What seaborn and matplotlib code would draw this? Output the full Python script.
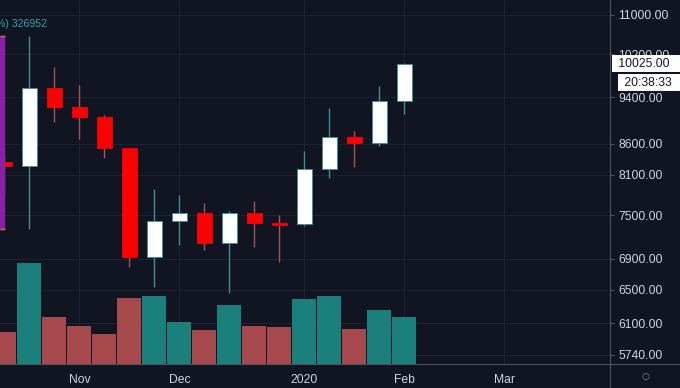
"""Weekly BTC candlestick chart with volume, dark trading-terminal style."""

import matplotlib

matplotlib.use("Agg")

import matplotlib.dates as mdates
import matplotlib.pyplot as plt
import pandas as pd
import seaborn as sns
from matplotlib.lines import Line2D
from matplotlib.patches import Rectangle
from matplotlib.ticker import FixedLocator, NullLocator

# weekly bars, Monday open
weeks = [
    "2019-10-14", "2019-10-21", "2019-10-28", "2019-11-04", "2019-11-11",
    "2019-11-18", "2019-11-25", "2019-12-02", "2019-12-09", "2019-12-16",
    "2019-12-23", "2019-12-30", "2020-01-06", "2020-01-13", "2020-01-20",
    "2020-01-27", "2020-02-03",
]
opens = [8300, 8240, 9570, 9225, 9050, 8530, 6925, 7417, 7532, 7112,
         7532, 7395, 7370, 8193, 8710, 8611, 9331]
highs = [8450, 10570, 9960, 9620, 9085, 8530, 7886, 7795, 7677, 7560,
         7707, 7502, 8480, 9207, 8811, 9603, 10040]
lows = [7830, 7300, 8965, 8677, 8367, 6790, 6537, 7084, 7017, 6462,
        7057, 6857, 7340, 8053, 8225, 8561, 9103]
closes = [8240, 9570, 9225, 9050, 8530, 6925, 7417, 7532, 7112, 7532,
          7389, 7360, 8193, 8710, 8611, 9331, 10025]
volume = [104500, 326952, 151000, 122000, 96000, 214500, 219000, 135000,
          110000, 190000, 124000, 118800, 211000, 221000, 113300, 173800, 152000]

price_ticks = [5740, 6100, 6500, 6900, 7500, 8100, 8600, 9400, 10200, 11000]
month_ticks = ["2019-11-04", "2019-12-02", "2020-01-06", "2020-02-03", "2020-03-02"]
month_labels = ["Nov", "Dec", "2020", "Feb", "Mar"]
countdown = "20:38:33"

BG = "#111522"
GRID = "#1d2232"
TEXT = "#d1d4dc"
AXIS = "#50535e"
UP_BODY = "#ffffff"
UP_WICK = "#3d8f8f"
DOWN_BODY = "#ff0000"
DOWN_WICK = "#a8505a"
VOL_UP = "#1b7f7b"
VOL_DOWN = "#a5494c"

sns.set_theme(style="dark", rc={"axes.facecolor": BG, "figure.facecolor": BG})
plt.rcParams["font.family"] = ["Liberation Sans", "DejaVu Sans"]

x = mdates.date2num(pd.to_datetime(weeks))
up = [c >= o for o, c in zip(opens, closes)]

fig = plt.figure(figsize=(6.8, 3.88), dpi=100)
ax = fig.add_axes([0.0, 24 / 388, 610 / 680, 364 / 388])
ax.set_facecolor(BG)

# volume overlay on a twin axis (twinx moves the price ticks, so it comes first)
ax2 = ax.twinx()
vol_df = pd.DataFrame({"x": x, "volume": volume,
                       "dir": ["up" if u else "down" for u in up]})
sns.barplot(data=vol_df, x="x", y="volume", hue="dir",
            palette={"up": VOL_UP, "down": VOL_DOWN}, native_scale=True,
            width=0.96, dodge=False, saturation=1, errorbar=None,
            legend=False, linewidth=0, ax=ax2)
ax2.set_ylim(0, max(volume) * 3.6)
ax2.set_yticks([])
ax2.set_xlabel("")
ax2.set_ylabel("")
ax2.grid(False)
ax2.tick_params(axis="both", length=0, labelbottom=False, labelright=False,
                labelleft=False)
for spine in ax2.spines.values():
    spine.set_visible(False)

# price axis (log), grid behind everything
ax.set_yscale("log")
ax.set_ylim(5642, 11320)
ax.yaxis.set_major_locator(FixedLocator(price_ticks))
ax.yaxis.set_minor_locator(NullLocator())
ax.set_yticklabels([f"{p:.2f}" for p in price_ticks])
ax.yaxis.tick_right()
ax.xaxis.set_major_locator(FixedLocator(mdates.date2num(pd.to_datetime(month_ticks))))
ax.xaxis.set_minor_locator(NullLocator())
ax.set_xticklabels(month_labels)
ax.set_xlim(x[0] - 1.26, x[0] - 1.26 + 170.8)
ax2.set_xlim(ax.get_xlim())
ax.grid(True, color=GRID, linewidth=0.8)
ax.set_axisbelow(True)
ax.tick_params(axis="y", colors=AXIS, labelcolor=TEXT, labelsize=8.7,
               length=3, width=0.8, pad=3, right=True, left=False,
               labelright=True, labelleft=False)
ax.tick_params(axis="x", labelcolor=TEXT, labelsize=8.7, length=0, pad=7.5)
for spine in ax.spines.values():
    spine.set_visible(False)

# wicks and bodies
ax.vlines(x, lows, highs, colors=[UP_WICK if u else DOWN_WICK for u in up],
          linewidth=1.0, zorder=2)
ax.bar(x, [abs(c - o) for o, c in zip(opens, closes)],
       bottom=[min(o, c) for o, c in zip(opens, closes)], width=4.2,
       color=[UP_BODY if u else DOWN_BODY for u in up],
       edgecolor=[UP_WICK if u else DOWN_BODY for u in up],
       linewidth=0.6, zorder=3)

# range marker on the left edge (purple bar with orange caps)
ax.add_patch(Rectangle((0, lows[1]), 0.0066, highs[1] - lows[1],
                       transform=ax.get_yaxis_transform(), color="#8a1fa8",
                       zorder=4, clip_on=False))
ax.hlines([lows[1], highs[1]], 0, 0.009, transform=ax.get_yaxis_transform(),
          colors="#c8783c", linewidth=1, zorder=5)

# volume legend, partly cut by the left edge as on the terminal
ax.text(-0.007, 0.933, f"%) {max(volume)}", transform=ax.transAxes,
        color="#2aa8b0", fontsize=7.6, ha="left", va="center", zorder=6)

# last price and countdown tags on the price scale
ax.annotate(f" {closes[-1]:.2f}   ", xy=(1, closes[-1]),
            xycoords=ax.get_yaxis_transform(), xytext=(3.4, 0),
            textcoords="offset points", ha="left", va="center",
            fontsize=8.7, color="#131722", annotation_clip=False, zorder=7,
            bbox=dict(boxstyle="square,pad=0.2", fc="white", ec="none"))
ax.annotate(f" {countdown}  ", xy=(1, closes[-1]),
            xycoords=ax.get_yaxis_transform(), xytext=(7.6, -13.7),
            textcoords="offset points", ha="left", va="center",
            fontsize=8.7, color="#131722", annotation_clip=False, zorder=7,
            bbox=dict(boxstyle="square,pad=0.2", fc="white", ec="none"))

# scale separators
fig.add_artist(Line2D([610 / 680, 610 / 680], [0, 1], color=AXIS, linewidth=0.8))
fig.add_artist(Line2D([0, 1], [24 / 388, 24 / 388], color=AXIS, linewidth=0.8))
fig.text(645 / 680, 1 - 377 / 388, "○", color="#8a8d96", fontsize=6.5,
         ha="center", va="center", family=["DejaVu Sans"])

fig.savefig("out.png", dpi=100, facecolor=BG)
